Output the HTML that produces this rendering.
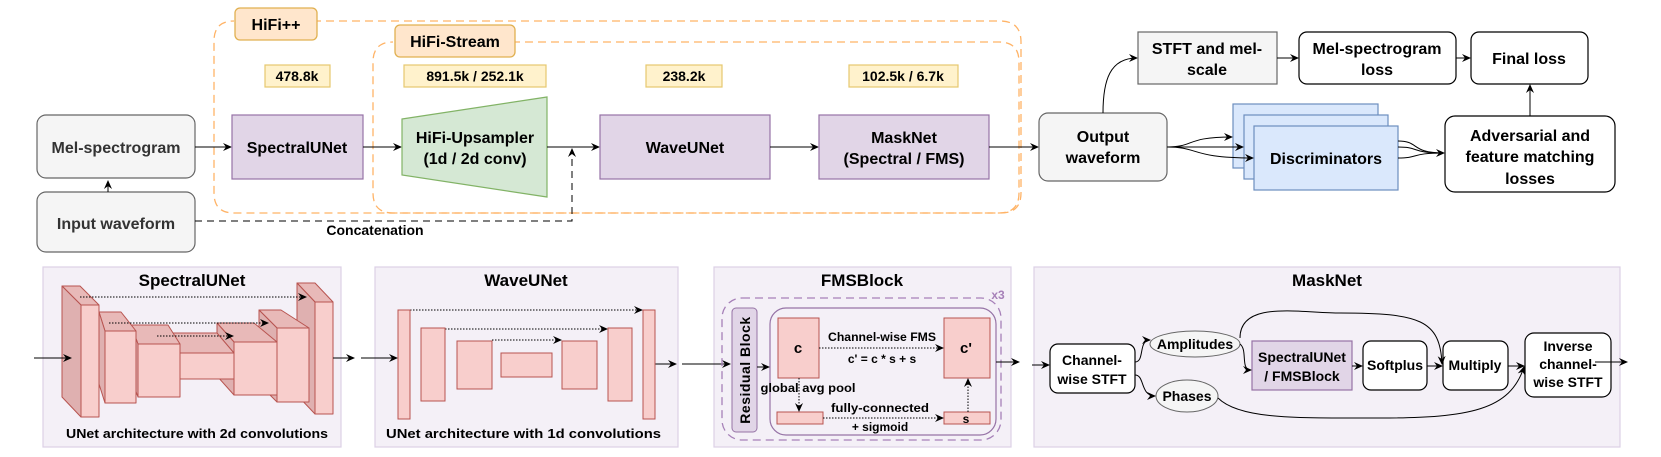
<!DOCTYPE html>
<html><head><meta charset="utf-8"><style>
html,body{margin:0;padding:0;background:#fff}
svg{display:block}
text{font-family:"Liberation Sans",Arial,sans-serif;font-weight:bold;fill:#000}
</style></head><body>
<svg width="1661" height="457" viewBox="0 0 1661 457" xmlns="http://www.w3.org/2000/svg">
<defs>
<marker id="a" markerWidth="10" markerHeight="10" refX="8" refY="5" orient="auto" markerUnits="userSpaceOnUse"><path d="M0,1 L9,5 L0,9 L3,5 z" fill="#000"/></marker>
</defs>

<path d="M235,21 L1000,21 Q1021,21 1021,42 L1021,193 Q1021,213 1001,213 L234,213 Q214,213 214,193 L214,41 Q214,21 234,21" fill="none" stroke="#ffb366" stroke-width="1.3" stroke-dasharray="8,5"/>
<path d="M395,42 L999,42 Q1019,42 1019,62 L1019,193 Q1019,213 999,213 L393,213 Q373,213 373,193 L373,62 Q373,42 393,42" fill="none" stroke="#ffb366" stroke-width="1.3" stroke-dasharray="8,5"/>
<rect x="235" y="8" width="82" height="32" rx="5" fill="#ffe6cc" stroke="#e0b050" stroke-width="1.3"/>
<text x="276" y="30" font-size="16" text-anchor="middle">HiFi++</text>
<rect x="395" y="25" width="120" height="32" rx="5" fill="#ffe6cc" stroke="#e0b050" stroke-width="1.3"/>
<text x="455" y="47" font-size="16" text-anchor="middle">HiFi-Stream</text>

<g fill="#fff2cc" stroke="#e6c86e" stroke-width="1.2">
<rect x="265" y="65" width="65" height="22"/>
<rect x="404" y="65" width="142" height="22"/>
<rect x="646" y="65" width="76" height="22"/>
<rect x="849" y="65" width="109" height="22"/>
</g>
<g font-size="14" text-anchor="middle">
<text x="297" y="81">478.8k</text>
<text x="475" y="81">891.5k / 252.1k</text>
<text x="684" y="81">238.2k</text>
<text x="903" y="81">102.5k / 6.7k</text>
</g>

<rect x="37" y="115" width="158" height="63" rx="9" fill="#f5f5f5" stroke="#666" stroke-width="1.2"/>
<text x="116" y="153" font-size="16" text-anchor="middle" style="fill:#333">Mel-spectrogram</text>
<rect x="37" y="192" width="158" height="60" rx="9" fill="#f5f5f5" stroke="#666" stroke-width="1.2"/>
<text x="116" y="229" font-size="16" text-anchor="middle" style="fill:#333">Input waveform</text>
<line x1="108" y1="192" x2="108" y2="181" stroke="#000" marker-end="url(#a)"/>

<line x1="195" y1="147" x2="231" y2="147" stroke="#000" marker-end="url(#a)"/>
<rect x="232" y="115" width="131" height="64" fill="#e1d5e7" stroke="#9673a6" stroke-width="1.2"/>
<text x="297" y="153" font-size="16" text-anchor="middle">SpectralUNet</text>
<line x1="363" y1="147" x2="401" y2="147" stroke="#000" marker-end="url(#a)"/>
<polygon points="402,119 547,97 547,197 402,175" fill="#d5e8d4" stroke="#82b366" stroke-width="1.2"/>
<text x="475" y="143" font-size="16" text-anchor="middle">HiFi-Upsampler</text>
<text x="475" y="164" font-size="16" text-anchor="middle">(1d / 2d conv)</text>
<line x1="547" y1="147" x2="599" y2="147" stroke="#000" marker-end="url(#a)"/>
<path d="M195,221 L572,221 L572,149" fill="none" stroke="#000" stroke-dasharray="7,5" marker-end="url(#a)"/>
<text x="375" y="235" font-size="14" text-anchor="middle">Concatenation</text>
<rect x="600" y="115" width="170" height="64" fill="#e1d5e7" stroke="#9673a6" stroke-width="1.2"/>
<text x="685" y="153" font-size="16" text-anchor="middle">WaveUNet</text>
<line x1="770" y1="147" x2="818" y2="147" stroke="#000" marker-end="url(#a)"/>
<rect x="819" y="115" width="170" height="64" fill="#e1d5e7" stroke="#9673a6" stroke-width="1.2"/>
<text x="904" y="143" font-size="16" text-anchor="middle">MaskNet</text>
<text x="904" y="164" font-size="16" text-anchor="middle">(Spectral / FMS)</text>
<line x1="989" y1="147" x2="1038" y2="147" stroke="#000" marker-end="url(#a)"/>
<rect x="1039" y="113" width="128" height="68" rx="9" fill="#f5f5f5" stroke="#666" stroke-width="1.2"/>
<text x="1103" y="142" font-size="16" text-anchor="middle">Output</text>
<text x="1103" y="163" font-size="16" text-anchor="middle">waveform</text>

<path d="M1103,113 C1103,80 1110,58 1137,58" fill="none" stroke="#000" marker-end="url(#a)"/>
<rect x="1138" y="32" width="139" height="52" fill="#f5f5f5" stroke="#666" stroke-width="1.2"/>
<text x="1207" y="54" font-size="16" text-anchor="middle">STFT and mel-</text>
<text x="1207" y="75" font-size="16" text-anchor="middle">scale</text>
<line x1="1277" y1="58" x2="1298" y2="58" stroke="#000" marker-end="url(#a)"/>
<rect x="1299" y="32" width="157" height="52" rx="8" fill="#fff" stroke="#000" stroke-width="1.2"/>
<text x="1377" y="54" font-size="16" text-anchor="middle">Mel-spectrogram</text>
<text x="1377" y="75" font-size="16" text-anchor="middle">loss</text>
<line x1="1456" y1="58" x2="1470" y2="58" stroke="#000" marker-end="url(#a)"/>
<rect x="1471" y="32" width="117" height="52" rx="8" fill="#fff" stroke="#000" stroke-width="1.2"/>
<text x="1529" y="64" font-size="16" text-anchor="middle">Final loss</text>

<rect x="1233" y="104" width="145" height="64" fill="#dae8fc" stroke="#6c8ebf" stroke-width="1.2"/>
<rect x="1244" y="115" width="144" height="64" fill="#dae8fc" stroke="#6c8ebf" stroke-width="1.2"/>
<rect x="1254" y="126" width="144" height="64" fill="#dae8fc" stroke="#6c8ebf" stroke-width="1.2"/>
<text x="1326" y="164" font-size="16" text-anchor="middle">Discriminators</text>
<g fill="none" stroke="#000">
<path d="M1167,147 C1195,147 1185,137 1232,137" marker-end="url(#a)"/>
<path d="M1167,147 L1243,147" marker-end="url(#a)"/>
<path d="M1167,147 C1200,147 1190,158 1253,158" marker-end="url(#a)"/>
<path d="M1398,141 C1420,141 1410,153 1444,153"/>
<path d="M1398,147 C1420,147 1410,153 1444,153"/>
<path d="M1398,158 C1420,158 1410,153 1444,153" marker-end="url(#a)"/>
<line x1="1530" y1="116" x2="1530" y2="85" marker-end="url(#a)"/>
</g>
<rect x="1445" y="116" width="170" height="76" rx="10" fill="#fff" stroke="#000" stroke-width="1.2"/>
<text x="1530" y="141" font-size="16" text-anchor="middle">Adversarial and</text>
<text x="1530" y="162" font-size="16" text-anchor="middle">feature matching</text>
<text x="1530" y="184" font-size="16" text-anchor="middle">losses</text>

<g fill="#f4f0f7" stroke="#dcd0e6" stroke-width="1.2">
<rect x="43" y="267" width="298" height="180"/>
<rect x="375" y="267" width="303" height="180"/>
<rect x="714" y="267" width="297" height="180"/>
<rect x="1034" y="267" width="586" height="180"/>
</g>
<g font-size="17" text-anchor="middle">
<text x="192" y="286">SpectralUNet</text>
<text x="526" y="286">WaveUNet</text>
<text x="862" y="286">FMSBlock</text>
<text x="1327" y="286">MaskNet</text>
</g>
<text x="66" y="438" font-size="13" textLength="262" lengthAdjust="spacingAndGlyphs">UNet architecture with 2d convolutions</text>
<text x="386" y="438" font-size="13" textLength="275" lengthAdjust="spacingAndGlyphs">UNet architecture with 1d convolutions</text>

<g stroke="#b85450" stroke-width="1" stroke-linejoin="round">
<polygon points="297,283 315,283 333,302 315,302" fill="#e8b9b8"/>
<polygon points="297,283 315,302 315,414 297,395" fill="#dfb0b0"/>
<polygon points="259,310 281,310 309,328 277,328" fill="#e8b9b8"/>
<polygon points="259,310 277,328 277,402 259,384" fill="#dfb0b0"/>
<polygon points="217,323 254,323 277,342 234,342" fill="#e8b9b8"/>
<polygon points="217,323 234,342 234,395 217,376" fill="#dfb0b0"/>
<polygon points="170,333 217,333 234,353 180,353" fill="#e8b9b8"/>
<polygon points="131,325 168,325 180,344 138,344" fill="#e8b9b8"/>
<polygon points="131,325 138,344 138,397 131,378" fill="#dfb0b0"/>
<polygon points="99,312 121,312 136,331 105,331" fill="#e8b9b8"/>
<polygon points="99,312 105,331 105,403 99,384" fill="#dfb0b0"/>
<polygon points="62,286 80,286 99,305 81,305" fill="#e8b9b8"/>
<polygon points="62,286 81,305 81,417 62,397" fill="#dfb0b0"/>
<g fill="#f8cecc">
<rect x="81" y="305" width="18" height="112"/>
<rect x="105" y="331" width="31" height="72"/>
<rect x="138" y="344" width="42" height="53"/>
<rect x="180" y="353" width="54" height="26"/>
<rect x="234" y="342" width="43" height="53"/>
<rect x="277" y="328" width="32" height="74"/>
<rect x="315" y="302" width="18" height="112"/>
</g>
</g>
<g stroke="#000" fill="none" stroke-dasharray="1.5,1.5">
<line x1="80" y1="297" x2="306" y2="297" marker-end="url(#a)"/>
<line x1="109" y1="323" x2="268" y2="323" marker-end="url(#a)"/>
<line x1="157" y1="336" x2="233" y2="336" marker-end="url(#a)"/>
<line x1="410" y1="310" x2="642" y2="310" marker-end="url(#a)"/>
<line x1="445" y1="329" x2="607" y2="329" marker-end="url(#a)"/>
<line x1="492" y1="340" x2="561" y2="340" marker-end="url(#a)"/>
</g>
<g stroke="#000" fill="none">
<line x1="34" y1="358" x2="71" y2="358" marker-end="url(#a)"/>
<line x1="333" y1="358" x2="354" y2="358" marker-end="url(#a)"/>
<line x1="361" y1="358" x2="397" y2="358" marker-end="url(#a)"/>
<line x1="655" y1="364" x2="676" y2="364" marker-end="url(#a)"/>
<line x1="682" y1="364" x2="730" y2="364" marker-end="url(#a)"/>
</g>
<g fill="#f8cecc" stroke="#b85450" stroke-width="1">
<rect x="398" y="310" width="12" height="109"/>
<rect x="421" y="328" width="24" height="73"/>
<rect x="457" y="341" width="35" height="48"/>
<rect x="501" y="353" width="51" height="24"/>
<rect x="562" y="341" width="35" height="48"/>
<rect x="608" y="328" width="24" height="73"/>
<rect x="643" y="310" width="12" height="109"/>
</g>

<rect x="722" y="298" width="279" height="142" rx="20" fill="none" stroke="#a680b8" stroke-width="1.3" stroke-dasharray="8,5"/>
<text x="998" y="299" font-size="12" text-anchor="middle" style="fill:#a680b8">x3</text>
<rect x="732" y="308" width="25" height="124" rx="4" fill="#e1d5e7" stroke="#9673a6"/>
<text transform="translate(750,370) rotate(-90)" font-size="14" text-anchor="middle" letter-spacing="0.5">Residual Block</text>
<rect x="770" y="308" width="226" height="127" rx="16" fill="none" stroke="#9673a6" stroke-width="1.2"/>
<line x1="757" y1="367" x2="769" y2="367" stroke="#000" marker-end="url(#a)"/>
<g fill="#f8cecc" stroke="#b85450">
<rect x="778" y="318" width="41" height="60"/>
<rect x="944" y="318" width="46" height="60"/>
<rect x="944" y="412" width="46" height="12"/>
<rect x="777" y="412" width="46" height="12"/>
</g>
<text x="798" y="353" font-size="15" text-anchor="middle">c</text>
<text x="966" y="353" font-size="15" text-anchor="middle">c'</text>
<text x="966" y="423" font-size="12" text-anchor="middle">s</text>
<g font-size="12" text-anchor="middle">
<text x="882" y="341" textLength="108" lengthAdjust="spacingAndGlyphs">Channel-wise FMS</text>
<text x="882" y="363">c' = c * s + s</text>
<text x="808" y="392" font-weight="normal" textLength="95" lengthAdjust="spacingAndGlyphs">global avg pool</text>
<text x="880" y="412" textLength="98" lengthAdjust="spacingAndGlyphs">fully-connected</text>
<text x="880" y="431">+ sigmoid</text>
</g>
<g stroke="#000" fill="none" stroke-dasharray="1.5,1.5">
<line x1="819" y1="348" x2="943" y2="348" marker-end="url(#a)"/>
<line x1="799" y1="378" x2="799" y2="411" marker-end="url(#a)"/>
<line x1="823" y1="418" x2="943" y2="418" marker-end="url(#a)"/>
<line x1="968" y1="412" x2="968" y2="379" marker-end="url(#a)"/>
</g>
<g stroke="#000" fill="none">
<line x1="996" y1="362" x2="1019" y2="362" marker-end="url(#a)"/>
<line x1="1032" y1="365" x2="1049" y2="365" marker-end="url(#a)"/>
</g>

<rect x="1050" y="344" width="85" height="49" rx="8" fill="#fff" stroke="#000" stroke-width="1.2"/>
<text x="1092" y="365" font-size="14" text-anchor="middle">Channel-</text>
<text x="1092" y="384" font-size="14" text-anchor="middle">wise STFT</text>
<ellipse cx="1195" cy="344" rx="45" ry="13" fill="#f5f5f5" stroke="#666"/>
<text x="1195" y="349" font-size="14" text-anchor="middle">Amplitudes</text>
<ellipse cx="1187" cy="396" rx="31" ry="16" fill="#f5f5f5" stroke="#666"/>
<text x="1187" y="401" font-size="14" text-anchor="middle">Phases</text>
<rect x="1252" y="341" width="100" height="49" fill="#e1d5e7" stroke="#9673a6" stroke-width="1.2"/>
<text x="1302" y="362" font-size="14" text-anchor="middle">SpectralUNet</text>
<text x="1302" y="381" font-size="14" text-anchor="middle">/ FMSBlock</text>
<rect x="1363" y="341" width="64" height="49" rx="8" fill="#fff" stroke="#000" stroke-width="1.2"/>
<text x="1395" y="370" font-size="14" text-anchor="middle">Softplus</text>
<rect x="1443" y="341" width="65" height="49" rx="8" fill="#fff" stroke="#000" stroke-width="1.2"/>
<text x="1475" y="370" font-size="14" text-anchor="middle">Multiply</text>
<rect x="1525" y="333" width="86" height="64" rx="9" fill="#fff" stroke="#000" stroke-width="1.2"/>
<text x="1568" y="351" font-size="14" text-anchor="middle">Inverse</text>
<text x="1568" y="369" font-size="14" text-anchor="middle">channel-</text>
<text x="1568" y="387" font-size="14" text-anchor="middle">wise STFT</text>
<g stroke="#000" fill="none">
<path d="M1135,362 C1145,362 1138,340 1150,340" marker-end="url(#a)"/>
<path d="M1135,375 C1145,375 1140,396 1155,396" marker-end="url(#a)"/>
<path d="M1240,344 C1248,350 1240,370 1251,370" marker-end="url(#a)"/>
<path d="M1240,338 C1240,300 1300,313 1340,313 C1420,313 1440,320 1442,364" marker-end="url(#a)"/>
<path d="M1218,398 C1240,420 1300,418 1380,418 C1470,418 1510,410 1524,367" marker-end="url(#a)"/>
<line x1="1352" y1="366" x2="1362" y2="366" marker-end="url(#a)"/>
<line x1="1427" y1="366" x2="1442" y2="366" marker-end="url(#a)"/>
<line x1="1508" y1="366" x2="1524" y2="366" marker-end="url(#a)"/>
<line x1="1595" y1="362" x2="1627" y2="362" marker-end="url(#a)"/>
</g>
</svg>
</body></html>
